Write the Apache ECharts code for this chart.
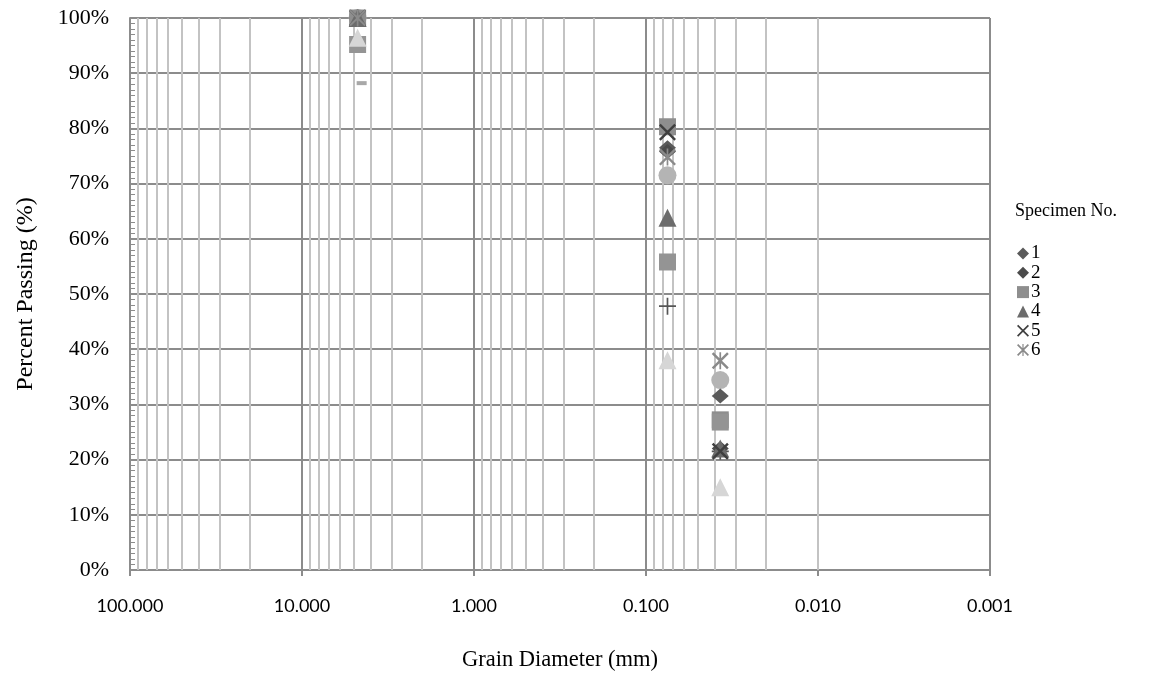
<!DOCTYPE html>
<html>
<head>
<meta charset="utf-8">
<script src="https://cdn.jsdelivr.net/npm/echarts@6/dist/echarts.min.js"></script>
<style>
  html, body { margin: 0; padding: 0; background: #fff; }
  #chart { width: 1162px; height: 675px; }
</style>
</head>
<body>
<div id="chart"></div>
<script>
// Sieve sizes (mm) at which each specimen was measured
const grainSizes = [4.75, 0.075, 0.037];

// Percent passing for each specimen at the sizes above
const specimen1 = [100, 76.5, 31.5];
const specimen2 = [100, 75.8, 22.0];
const specimen3 = [100, 80.3, 27.2];
const specimen4 = [100, 63.8, 22.0];
const specimen5 = [100, 79.3, 21.5];
const specimen6 = [100, 74.8, 37.9];
const specimen7 = [100, 71.5, 34.4];
const specimen8 = [95.2, 55.8, 26.8];
const specimen9 = [100, 47.8, 21.5];
const specimen10 = [96.4, 38.0, 15.0];
// Single reading taken on a slightly finer sieve
const specimen11Sizes = [4.5];
const specimen11 = [88.2];

const seriesNames = ['1', '2', '3', '4', '5', '6', '7', '8', '9', '10', '11'];
const legendNames = ['1', '2', '3', '4', '5', '6'];

// Axis ranges and tick labels
const xMin = 0.001, xMax = 100;
const xTickLabels = ['100.000', '10.000', '1.000', '0.100', '0.010', '0.001'];
const yMin = 0, yMax = 100, yStep = 10;

// Minor log grid: 2..9 within each decade
const minorGridValues = [];
for (let e = -3; e < 2; e++) {
  for (let m = 2; m <= 9; m++) minorGridValues.push(+(m * Math.pow(10, e)).toPrecision(3));
}

// Stroke-like marker shapes built as filled paths
const xPath = 'path://M0,1 L1,0 L10,9 L9,10 Z M9,0 L10,1 L1,10 L0,9 Z';
const starPath = 'path://M0,1 L1,0 L10,9 L9,10 Z M9,0 L10,1 L1,10 L0,9 Z M4.5,0 L5.5,0 L5.5,10 L4.5,10 Z';
const plusPath = 'path://M0,4.5 L10,4.5 L10,5.5 L0,5.5 Z M4.5,0 L5.5,0 L5.5,10 L4.5,10 Z';

const styles = [
  { symbol: 'diamond', size: [17, 15], color: '#5a5a5a', z: 4 },
  { symbol: 'diamond', size: [17, 15], color: '#4b4b4b', z: 4 },
  { symbol: 'rect', size: 17, color: '#8e8e8e', z: 4 },
  { symbol: 'triangle', size: 18, color: '#6c6c6c', z: 4 },
  { symbol: xPath, size: 17, color: '#3f3f3f', z: 4 },
  { symbol: starPath, size: 17, color: '#8a8a8a', z: 4 },
  { symbol: 'circle', size: 18, color: '#b4b4b4', z: 3 },
  { symbol: 'rect', size: 17, color: '#949494', z: 4 },
  { symbol: plusPath, size: 17, color: '#555555', z: 3 },
  { symbol: 'triangle', size: 18, color: '#d6d6d6', z: 4 },
  { symbol: 'rect', size: [10, 4], color: '#a8a8a8', z: 4 }
];

const allPoints = [specimen1, specimen2, specimen3, specimen4, specimen5, specimen6,
  specimen7, specimen8, specimen9, specimen10]
  .map(vals => vals.map((v, j) => [grainSizes[j], v]))
  .concat([specimen11.map((v, j) => [specimen11Sizes[j], v])]);

const scatterSeries = allPoints.map((pts, i) => ({
  name: seriesNames[i],
  type: 'scatter',
  z: styles[i].z,
  symbol: styles[i].symbol,
  symbolSize: styles[i].size,
  itemStyle: { color: styles[i].color, opacity: 1 },
  data: pts
}));

const minorGridSeries = {
  name: 'minor-grid',
  type: 'scatter',
  z: 1,
  data: [],
  silent: true,
  markLine: {
    z: 1,
    silent: true,
    symbol: 'none',
    animation: false,
    label: { show: false },
    emphasis: { disabled: true },
    lineStyle: { color: '#c3c3c3', width: 2, type: 'solid' },
    data: minorGridValues.map(v => ({ xAxis: v }))
  }
};

const serif = '"Liberation Serif", "Times New Roman", serif';

const chart = echarts.init(document.getElementById('chart'), null, { renderer: 'canvas' });
chart.setOption({
  animation: false,
  backgroundColor: '#ffffff',
  grid: { left: 130, right: 172, top: 18, bottom: 105, show: false, containLabel: false, outerBoundsMode: 'none' },
  graphic: [{
    type: 'text',
    left: 1015,
    top: 202,
    style: { text: 'Specimen No.', font: '18px ' + serif, fill: '#000' }
  }],
  legend: {
    data: legendNames,
    orient: 'vertical',
    left: 1017,
    top: 244,
    padding: 0,
    itemWidth: 12,
    itemHeight: 12,
    itemGap: 0.3,
    textStyle: { fontFamily: serif, fontSize: 19, lineHeight: 19, color: '#000', padding: [0, 0, 0, -3] }
  },
  xAxis: {
    type: 'log',
    logBase: 10,
    min: xMin,
    max: xMax,
    inverse: true,
    name: 'Grain Diameter (mm)',
    nameLocation: 'middle',
    nameGap: 79,
    nameTextStyle: { fontFamily: serif, fontSize: 22.5, color: '#000' },
    axisLine: { show: true, lineStyle: { color: '#8c8c8c', width: 2 } },
    axisTick: { show: true, inside: false, length: 6, lineStyle: { color: '#8c8c8c', width: 2 } },
    axisLabel: {
      margin: 27,
      fontFamily: 'Lato, "Liberation Sans", sans-serif',
      fontSize: 18,
      color: '#000',
      formatter: (v) => {
        const idx = Math.round(2 - Math.log10(v));
        return xTickLabels[idx] !== undefined ? xTickLabels[idx] : v.toFixed(3);
      }
    },
    splitLine: { show: true, lineStyle: { color: '#8c8c8c', width: 2 } }
  },
  yAxis: {
    type: 'value',
    min: yMin,
    max: yMax,
    interval: yStep,
    name: 'Percent Passing (%)',
    nameLocation: 'middle',
    nameGap: 92,
    nameTextStyle: { fontFamily: serif, fontSize: 24, color: '#000' },
    axisLine: { show: true, lineStyle: { color: '#8c8c8c', width: 2 } },
    axisTick: { show: true, inside: true, length: 6, lineStyle: { color: '#8c8c8c', width: 1 } },
    minorTick: { show: true, splitNumber: 10, length: 5, lineStyle: { color: '#8c8c8c', width: 1 } },
    axisLabel: {
      margin: 21,
      fontFamily: serif,
      fontSize: 22,
      color: '#000',
      formatter: '{value}%'
    },
    splitLine: { show: true, lineStyle: { color: '#8c8c8c', width: 2 } }
  },
  series: [minorGridSeries].concat(scatterSeries)
});
</script>
</body>
</html>
